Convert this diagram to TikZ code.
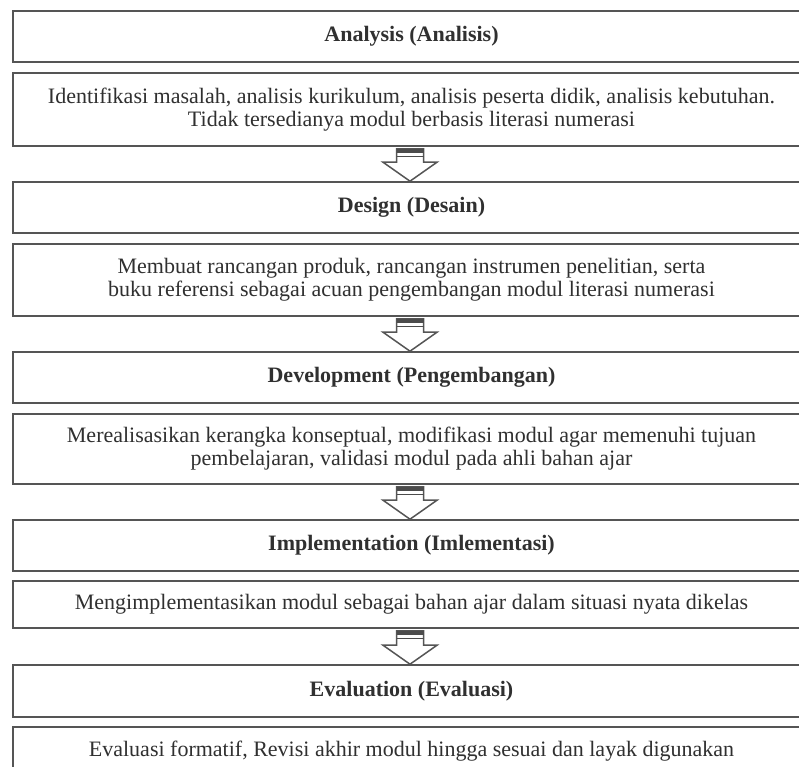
\documentclass[tikz,border=0pt]{standalone}
\usepackage{fontspec}
\setmainfont{Liberation Serif}
\usetikzlibrary{calc}
\definecolor{ink}{HTML}{303030}
\definecolor{rule}{HTML}{555555}
\newcommand\flowarrow[2]{%
  \coordinate (T) at ($(#1.south)+(-1.5,2)$);
  \coordinate (P) at ($(#2.north)+(-1.5,0)$);
  \draw[arrowline] ($(T)+(-13.5,0)$) -- ($(P)+(-13.5,-19)$) -- ($(P)+(-27,-19)$) -- (P)
    -- ($(P)+(27,-19)$) -- ($(P)+(13.5,-19)$) -- ($(T)+(13.5,0)$) -- cycle;
  \fill[rule!90!black] ($(T)+(-13.5,0)$) rectangle ($(T)+(13.5,4)$);
  \draw[line width=1.6pt, rule!90!black] ($(T)+(-13.5,7.5)$) -- ($(T)+(13.5,7.5)$);
}
\begin{document}
\begin{tikzpicture}[x=1pt,y=-1pt,
  box/.style={draw=rule, line width=1.6pt, minimum width=797pt, inner sep=0pt,
    text=ink, align=center, font=\fontsize{22}{23}\selectfont},
  ttl/.style={box, minimum height=51pt, font=\fontsize{22}{23}\selectfont\bfseries},
  arrowline/.style={draw=rule, line width=1.5pt, fill=white, line join=miter}]
\useasboundingbox (0,0) rectangle (799,766);
\fill[white] (0,0) rectangle (799,766);
\clip (0,0) rectangle (799,766);
\node[ttl] (t1) at (411.5,36.5) {Analysis (Analisis)};
\node[box, minimum height=73pt] (d1) at (411.5,109.5) {Identifikasi masalah, analisis kurikulum, analisis peserta didik, analisis kebutuhan.\\Tidak tersedianya modul berbasis literasi numerasi};
\node[ttl] (t2) at (411.5,207.5) {Design (Desain)};
\node[box, minimum height=72pt] (d2) at (411.5,280) {Membuat rancangan produk, rancangan instrumen penelitian, serta\\buku referensi sebagai acuan pengembangan modul literasi numerasi};
\node[ttl] (t3) at (411.5,377.5) {Development (Pengembangan)};
\node[box, minimum height=70pt] (d3) at (411.5,449) {Merealisasikan kerangka konseptual, modifikasi modul agar memenuhi tujuan\\pembelajaran, validasi modul pada ahli bahan ajar};
\node[ttl] (t4) at (411.5,545.5) {Implementation (Imlementasi)};
\node[box, minimum height=47pt] (d4) at (411.5,604.5) {Mengimplementasikan modul sebagai bahan ajar dalam situasi nyata dikelas};
\node[ttl, minimum height=52pt] (t5) at (411.5,691) {Evaluation (Evaluasi)};
\node[box, minimum height=48pt] (d5) at (411.5,751) {Evaluasi formatif, Revisi akhir modul hingga sesuai dan layak digunakan};
\flowarrow{d1}{t2}
\flowarrow{d2}{t3}
\flowarrow{d3}{t4}
\flowarrow{d4}{t5}
\end{tikzpicture}
\end{document}
